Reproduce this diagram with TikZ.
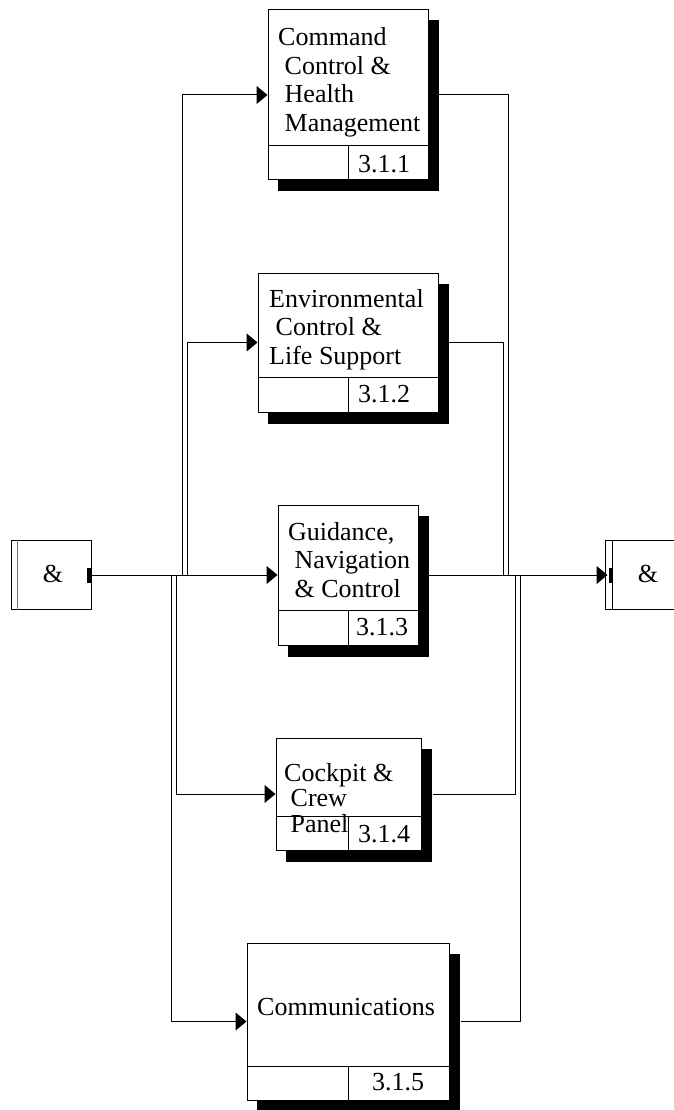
\documentclass[tikz,border=0pt]{standalone}
\usepackage{fontspec}
\setmainfont{Liberation Serif}
\usetikzlibrary{arrows.meta,shadows,calc}
\begin{document}
\begin{tikzpicture}[x=1pt,y=-1pt,
  every node/.style={font=\fontsize{26}{28.5}\selectfont},
  fbox/.style={draw, fill=white, line width=1pt, inner sep=0pt,
    copy shadow={shadow xshift=10pt, shadow yshift=-11pt, fill=black, draw=black}},
  andbox/.style={draw, fill=white, line width=1pt, inner sep=0pt, minimum width=80pt, minimum height=69pt},
  conn/.style={line width=1pt},
  arr/.style={conn, -{Triangle[length=11pt,width=18pt]}},
  lbl/.style={anchor=base west, inner sep=0pt},
]
\useasboundingbox (0,0) rectangle (674,1110);
\fill[white] (0,0) rectangle (674,1110);
\clip (0,0) rectangle (674,1110);

% function boxes
\node[fbox, minimum width=160pt, minimum height=170pt] (b1) at (348,95) {};
\node[fbox, minimum width=180pt, minimum height=139pt] (b2) at (348,342.5) {};
\node[fbox, minimum width=140pt, minimum height=140pt] (b3) at (348,575) {};
\node[fbox, minimum width=145pt, minimum height=112pt] (b4) at (348.5,794) {};
\node[fbox, minimum width=202pt, minimum height=157pt] (b5) at (348,1021.5) {};

% number rows
\foreach \b/\h in {b1/35,b2/35,b3/35,b4/34,b5/34}{
  \draw[conn] ($(\b.south west)+(0,-\h)$) -- ($(\b.south east)+(0,-\h)$);
  \draw[conn] ($(\b.south)+(0,-\h)$) -- (\b.south);
}

% labels
\node[lbl] (t1) at (278,46) {\begin{tabular}[t]{@{}l@{}}Command\\\ Control \&\\\ Health\\\ Management\end{tabular}};
\node[lbl] (t2) at (269,307) {\begin{tabular}[t]{@{}l@{}}Environmental\\\ Control \&\\Life Support\end{tabular}};
\node[lbl] (t3) at (288,540) {\begin{tabular}[t]{@{}l@{}}Guidance,\\\ Navigation\\\ \& Control\end{tabular}};
\node[lbl, font=\fontsize{26}{25.5}\selectfont] (t4) at (284,781) {\begin{tabular}[t]{@{}l@{}}Cockpit \&\\\ Crew\\\ Panel\end{tabular}};
\node[lbl] (t5) at (257,1015) {Communications};

\node[lbl] (n1) at (358,172) {3.1.1};
\node[lbl] (n2) at (358,402) {3.1.2};
\node[lbl] (n3) at (356,635) {3.1.3};
\node[lbl] (n4) at (358,842) {3.1.4};
\node[lbl] (n5) at (372,1090) {3.1.5};

% external & boxes
\node[andbox] (L) at (51,575) {};
\node[anchor=base, inner sep=0pt] (La) at (53,582) {\&};
\draw[conn, black!55] ([xshift=7pt]L.north west) -- ([xshift=7pt]L.south west);
\fill ([xshift=-5pt,yshift=7.5pt]L.east) rectangle ([xshift=-1pt,yshift=-7.5pt]L.east);

\node[andbox, minimum width=86pt] (R) at (648,575) {};
\node[anchor=base, inner sep=0pt] (Ra) at (648,582) {\&};
\draw[conn] ([xshift=8pt]R.north west) -- ([xshift=8pt]R.south west);
\fill ([xshift=4pt,yshift=7.5pt]R.west) rectangle ([xshift=8pt,yshift=-7.5pt]R.west);

% junction points
\coordinate (jl1) at (182,575);
\coordinate (jl2) at (187,575);
\coordinate (jl4) at (176,575);
\coordinate (jl5) at (171,575);
\coordinate (jr1) at (508,575);
\coordinate (jr2) at (503,575);
\coordinate (jr4) at (515,575);
\coordinate (jr5) at (520,575);

% connectors
\draw[arr] (L.east) -- (b3.west);
\draw[arr] ([xshift=10pt]b3.east) -- ([xshift=3pt]R.west);
\draw[arr] (jl1) |- (b1.west);
\draw[arr] (jl2) |- (b2.west);
\draw[arr] (jl4) |- (b4.west);
\draw[arr] (jl5) |- (b5.west);
\draw[conn] ([xshift=10pt]b1.east) -| (jr1);
\draw[conn] ([xshift=10pt]b2.east) -| (jr2);
\draw[conn] ([xshift=11pt]b4.east) -| (jr4);
\draw[conn] ([xshift=11pt]b5.east) -| (jr5);
\end{tikzpicture}
\end{document}
